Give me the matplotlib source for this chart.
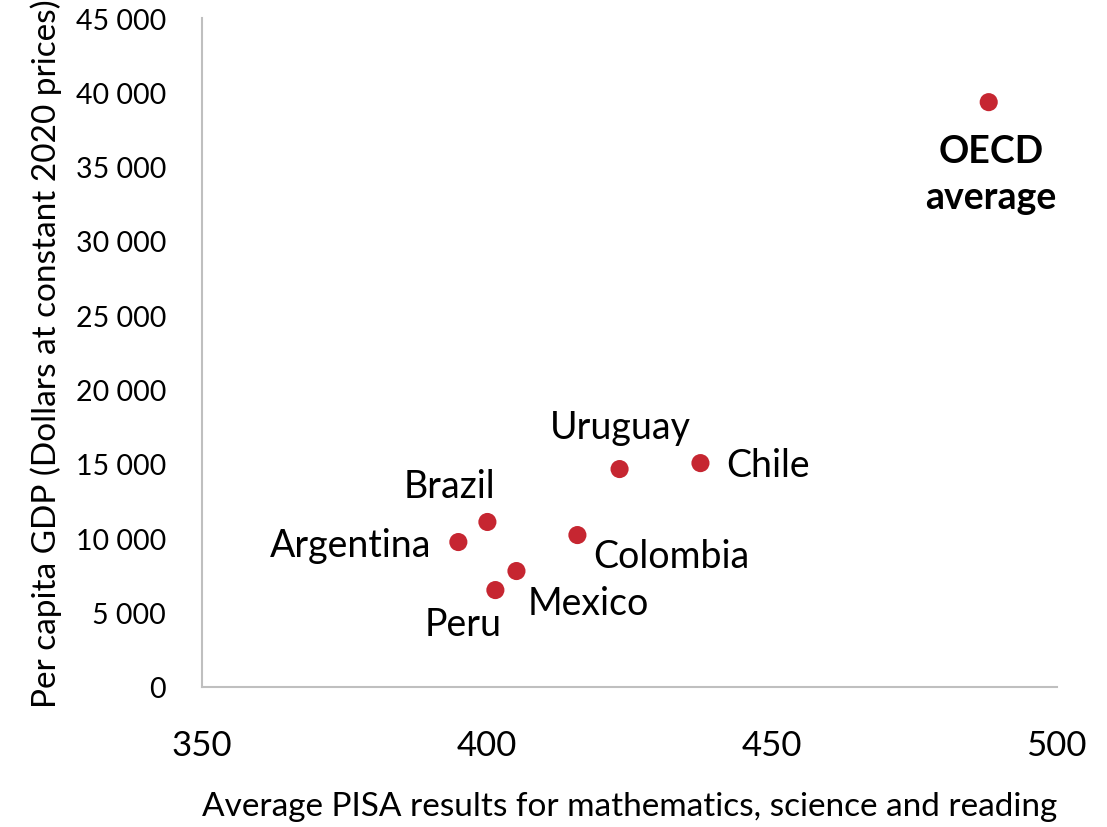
import matplotlib.pyplot as plt
from matplotlib.ticker import FuncFormatter

# PISA average score vs GDP per capita
countries = ['OECD\naverage', 'Chile', 'Uruguay', 'Colombia', 'Brazil',
             'Argentina', 'Mexico', 'Peru']
pisa = [488.1, 437.5, 423.3, 415.9, 400.1, 395.0, 405.2, 401.5]
gdp = [39340, 15060, 14660, 10220, 11100, 9750, 7800, 6520]

# label offsets in pixels and alignment for each point
offsets = {
    'OECD\naverage': ((2, -32), 'center', 'top'),
    'Chile': ((26, -2), 'left', 'center'),
    'Uruguay': ((1, 42), 'center', 'center'),
    'Colombia': ((16, -21), 'left', 'center'),
    'Brazil': ((-38, 36), 'center', 'center'),
    'Argentina': ((-27, -3), 'right', 'center'),
    'Mexico': ((11, -32), 'left', 'center'),
    'Peru': ((-32, -34), 'center', 'center'),
}

plt.rcParams['font.family'] = ['Lato', 'DejaVu Sans']

fig = plt.figure(figsize=(11.07, 8.28), dpi=100)
ax = fig.add_axes([202 / 1107, 1 - 688 / 828, (1056.5 - 202) / 1107, (688 - 19) / 828])

ax.scatter(pisa, gdp, s=170, color='#C62631', edgecolors='none', zorder=3)

for name, x, y in zip(countries, pisa, gdp):
    (dx, dy), ha, va = offsets[name]
    bold = name.startswith('OECD')
    ax.annotate(name, (x, y), xytext=(dx, dy), textcoords='offset pixels',
                ha=ha, va=va, fontsize=27, linespacing=1.42,
                fontweight='bold' if bold else 'normal', color='black')

ax.set_xlim(350, 500)
ax.set_ylim(0, 45000)
ax.set_xticks([350, 400, 450, 500])
ax.set_yticks(range(0, 45001, 5000))
ax.yaxis.set_major_formatter(FuncFormatter(lambda v, p: f'{int(v):,}'.replace(',', ' ')))

ax.tick_params(axis='x', length=0, pad=30, labelsize=25)
ax.tick_params(axis='y', length=0, pad=26, labelsize=20.5)

for s in ['top', 'right']:
    ax.spines[s].set_visible(False)
for s in ['left', 'bottom']:
    ax.spines[s].set_color('#BFBFBF')
    ax.spines[s].set_linewidth(1.5)

ax.set_xlabel('Average PISA results for mathematics, science and reading',
              fontsize=24, labelpad=22)
ax.set_ylabel('Per capita GDP (Dollars at constant 2020 prices)',
              fontsize=24, labelpad=10)

fig.savefig('out.png', dpi=100)
